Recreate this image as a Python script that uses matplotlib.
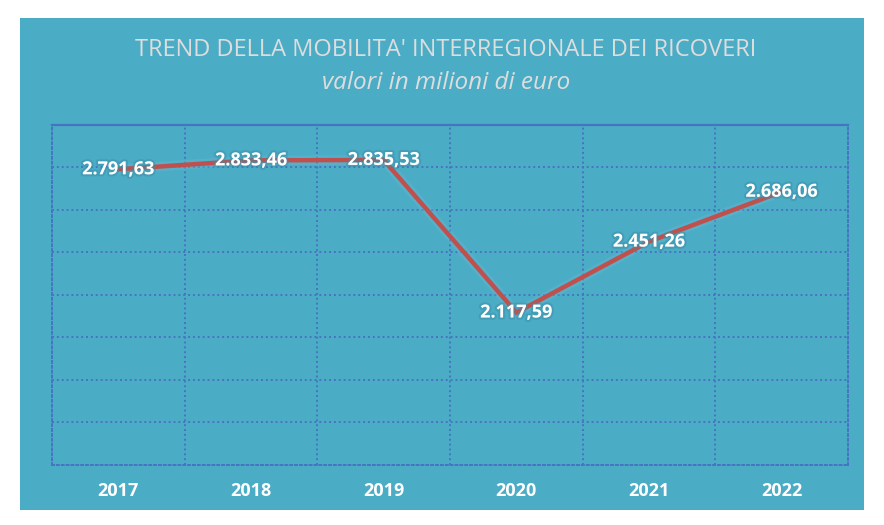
import matplotlib.pyplot as plt
import matplotlib.patheffects as pe
from matplotlib.patches import Rectangle

years = ["2017", "2018", "2019", "2020", "2021", "2022"]
valori = [2791.63, 2833.46, 2835.53, 2117.59, 2451.26, 2686.06]
etichette = ["2.791,63", "2.833,46", "2.835,53", "2.117,59", "2.451,26", "2.686,06"]

TEAL = "#4BACC6"
GRID = "#4674C2"
LINE = "#C0504D"

fig = plt.figure(figsize=(8.84, 5.25), dpi=100)
fig.patch.set_facecolor("white")
fig.patches.append(Rectangle((20 / 884, 1 - 510 / 525), 844 / 884, 492 / 525,
                             transform=fig.transFigure, facecolor=TEAL,
                             edgecolor="none", zorder=-10))

ax = fig.add_axes([52 / 884, 1 - 465 / 525, 796 / 884, 340 / 525])
ax.patch.set_alpha(0)

x = range(len(years))
ax.set_xlim(-0.5, len(years) - 0.5)
ax.set_ylim(1400, 3000)
ax.set_yticks(range(1400, 3001, 200))
ax.set_xticks([i + 0.5 for i in x[:-1]])
ax.tick_params(length=0, labelleft=False, labelbottom=False)
ax.grid(True, color=GRID, linestyle=(0, (1, 1.5)), linewidth=1.4)

for side in ["left", "right", "bottom"]:
    ax.spines[side].set_color(GRID)
    ax.spines[side].set_linestyle((0, (1, 1.5)))
    ax.spines[side].set_linewidth(1.4)
ax.spines["top"].set_color(GRID)
ax.spines["top"].set_linewidth(1.6)

ax.plot(list(x), valori, color=LINE, linewidth=3.2, solid_capstyle="round",
        solid_joinstyle="miter", zorder=3,
        path_effects=[pe.Stroke(linewidth=7, foreground="#6FBBD0", alpha=0.3), pe.Normal()])

for i, (v, t) in enumerate(zip(valori, etichette)):
    ax.text(i, v, t, ha="center", va="center", color="white", fontsize=13,
            fontweight="bold", family=["Open Sans", "DejaVu Sans"], zorder=4,
            path_effects=[pe.withStroke(linewidth=3, foreground="#3A8FA8", alpha=0.5)])

for i, y in enumerate(years):
    ax.text(i, -0.075, y, transform=ax.get_xaxis_transform(), ha="center", va="center",
            color="white", fontsize=13, fontweight="bold",
            family=["Open Sans", "DejaVu Sans"])

fig.text(446 / 884, 1 - 50 / 525, "TREND DELLA MOBILITA' INTERREGIONALE DEI RICOVERI",
         ha="center", va="center", color="#DDDDDD", fontsize=17,
         family=["Open Sans", "DejaVu Sans"])
fig.text(446 / 884, 1 - 83 / 525, "valori in milioni di euro",
         ha="center", va="center", color="#DDDDDD", fontsize=17.5, style="italic",
         family=["Open Sans", "DejaVu Sans"])

fig.savefig("out.png", dpi=100, facecolor=fig.get_facecolor())
